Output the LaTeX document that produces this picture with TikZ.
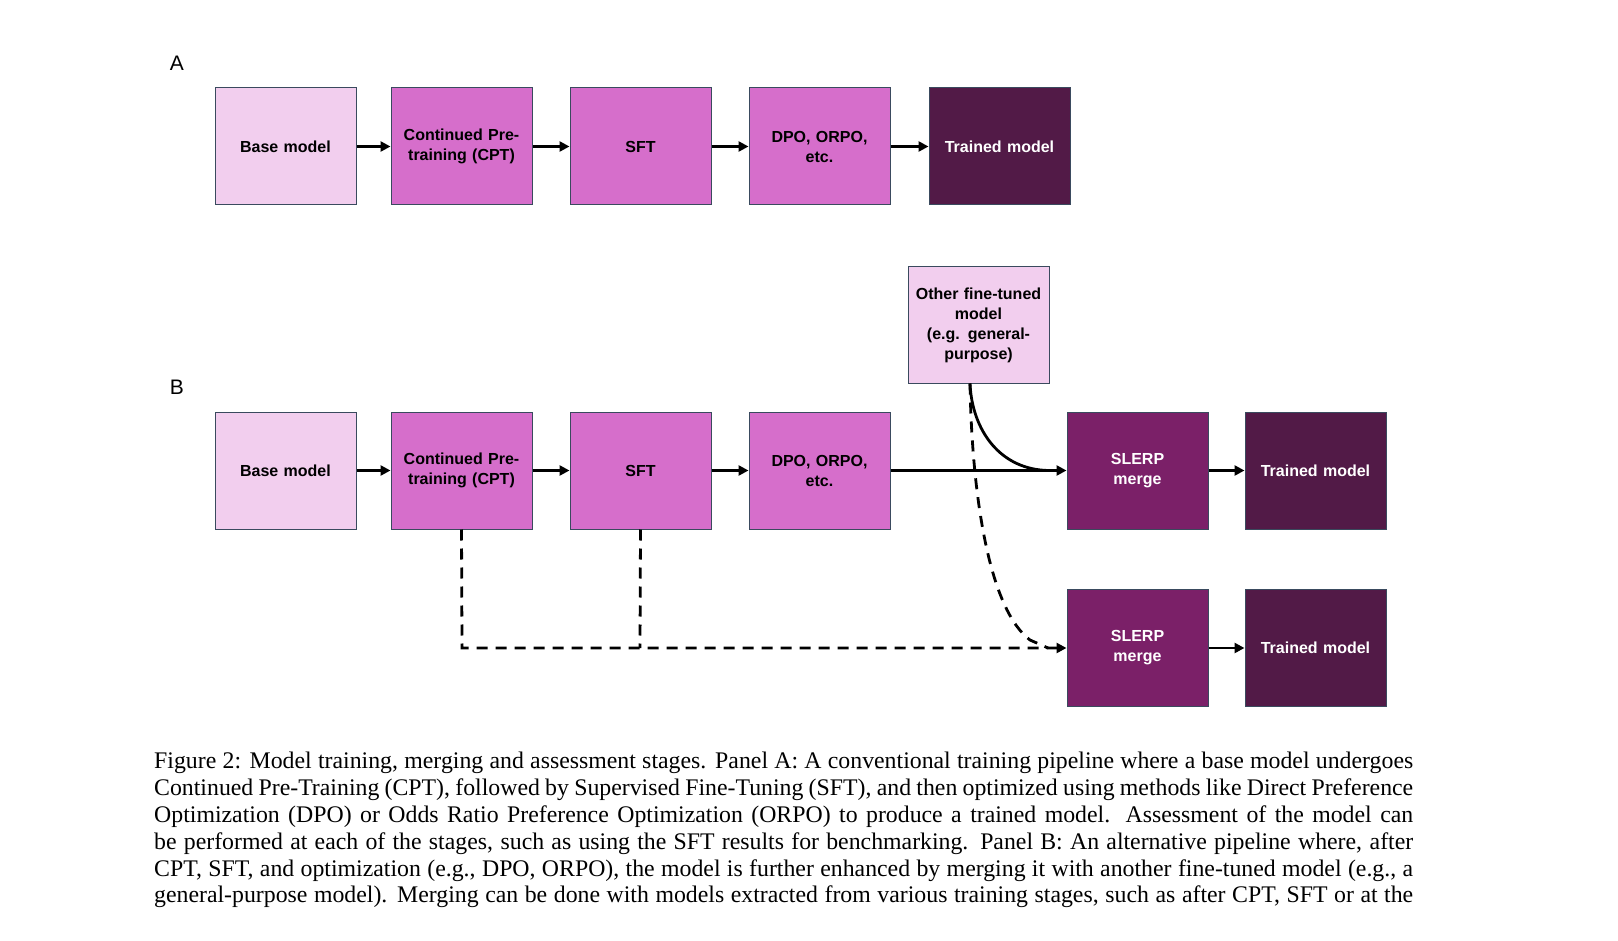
\documentclass[tikz,border=0pt]{standalone}
\usepackage{fontspec}
\setmainfont{Liberation Serif}
\newfontfamily\sansf{Liberation Sans}
\usetikzlibrary{arrows.meta}
\definecolor{lp}{HTML}{F2CEEE}
\definecolor{mg}{HTML}{D66ECB}
\definecolor{dp}{HTML}{521A47}
\definecolor{sl}{HTML}{7B2068}
\definecolor{bd}{HTML}{3A4A5E}
\begin{document}
\begin{tikzpicture}[x=1pt,y=-1pt,
 box/.style={draw=bd,line width=1pt,minimum width=141pt,minimum height=117pt,text width=128pt,align=center,font=\sansf\bfseries\fontsize{16}{20}\selectfont},
 l/.style={box,fill=lp},m/.style={box,fill=mg},d/.style={box,fill=dp,text=white},s/.style={box,fill=sl,text=white},
 ar/.style={line width=2.8pt,-{Triangle[length=10pt,width=10pt]}},
 dsh/.style={dash pattern=on 11pt off 8pt},
 captxt/.style={anchor=base west,inner sep=0pt,font=\fontsize{23.8}{26}\selectfont}]
\useasboundingbox (0,0) rectangle (1618,941);
\node[font=\sansf\fontsize{21}{24}\selectfont] (la) at (177,63) {A};
\node[font=\sansf\fontsize{21}{24}\selectfont] (lb) at (177,387) {B};
\node[l] (a1) at (285.5,146.5) {Base model};
\node[m] (a2) at (461.5,146.5) {Continued Pre-\\training (CPT)};
\node[m] (a3) at (640.5,146.5) {SFT};
\node[m] (a4) at (819.5,146.5) {DPO, ORPO,\\etc.};
\node[d] (a5) at (999.5,146.5) {Trained model};
\foreach \i/\j in {a1/a2,a2/a3,a3/a4,a4/a5}\draw[ar] (\i) -- (\j);
\node[l] (b1) at (285.5,470.5) {Base model};
\node[m] (b2) at (461.5,470.5) {Continued Pre-\\training (CPT)};
\node[m] (b3) at (640.5,470.5) {SFT};
\node[m] (b4) at (819.5,470.5) {DPO, ORPO,\\etc.};
\node[s] (b5) at (1137.5,470.5) {SLERP\\merge};
\node[d] (b6) at (1315.5,470.5) {Trained model};
\node[l] (o) at (978.5,325) {Other fine-tuned\\model\\(e.g. general-\\purpose)};
\node[s] (c5) at (1137.5,648) {SLERP\\merge};
\node[d] (c6) at (1315.5,648) {Trained model};
\foreach \i/\j in {b1/b2,b2/b3,b3/b4,b4/b5,b5/b6,c5/c6}\draw[ar] (\i) -- (\j);
\coordinate (os) at (970,383.5);
\draw[line width=2.8pt] (os) .. controls (972,430) and (1000,470.5) .. (1050,470.5);
\draw[line width=2.8pt,dsh] (os) .. controls (972,500) and (990,610) .. (1030,640) -- (1048,648);
\draw[ar,dsh] (b2.south) -- (462,648) -- (c5.west);
\draw[line width=2.8pt,dsh] (b3.south) -- (640,648);
\node[captxt] (t1) at (154,768) {\makebox[1259pt][s]{Figure 2: Model training, merging and assessment stages. Panel A: A conventional training pipeline where a base model undergoes}};
\node[captxt] (t2) at (154,795) {\makebox[1259pt][s]{Continued Pre-Training (CPT), followed by Supervised Fine-Tuning (SFT), and then optimized using methods like Direct Preference}};
\node[captxt] (t3) at (154,822) {\makebox[1259pt][s]{Optimization (DPO) or Odds Ratio Preference Optimization (ORPO) to produce a trained model.  Assessment of the model can}};
\node[captxt] (t4) at (154,849) {\makebox[1259pt][s]{be performed at each of the stages, such as using the SFT results for benchmarking. Panel B: An alternative pipeline where, after}};
\node[captxt] (t5) at (154,876) {\makebox[1259pt][s]{CPT, SFT, and optimization (e.g., DPO, ORPO), the model is further enhanced by merging it with another fine-tuned model (e.g., a}};
\node[captxt] (t6) at (154,902) {\makebox[1259pt][s]{general-purpose model). Merging can be done with models extracted from various training stages, such as after CPT, SFT or at the}};
\end{tikzpicture}
\end{document}
